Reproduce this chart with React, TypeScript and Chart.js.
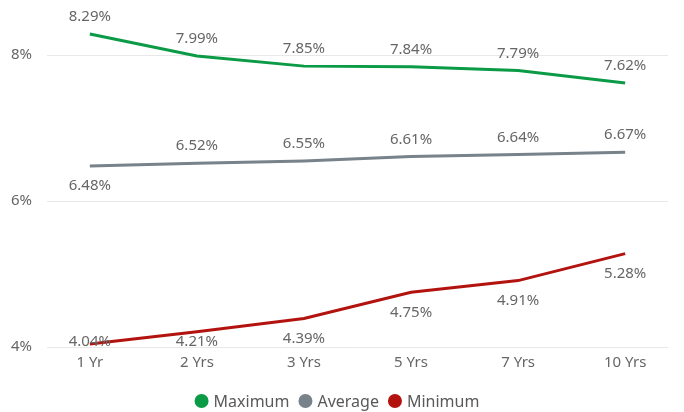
import React, { useEffect, useRef } from "react";
import { Chart, registerables } from "chart.js";

Chart.register(...registerables);

const categories = ["1 Yr", "2 Yrs", "3 Yrs", "5 Yrs", "7 Yrs", "10 Yrs"];
const maximumValues = [8.29, 7.99, 7.85, 7.84, 7.79, 7.62];
const averageValues = [6.48, 6.52, 6.55, 6.61, 6.64, 6.67];
const minimumValues = [4.04, 4.21, 4.39, 4.75, 4.91, 5.28];
const yTickValues = [4, 6, 8];

const maximumLabelPos = ["above", "above", "above", "above", "above", "above"];
const averageLabelPos = ["below", "above", "above", "above", "above", "above"];
const minimumLabelPos = ["below", "below", "below", "below", "below", "below"];

const FONT = "'Noto Sans', 'Open Sans', sans-serif";

const labelPlugin = {
  id: "pointLabels",
  afterDatasetsDraw(chart: any) {
    const ctx = chart.ctx;
    const area = chart.chartArea;
    ctx.save();
    ctx.font = `15px ${FONT}`;
    ctx.fillStyle = "#666666";
    ctx.textAlign = "center";
    ctx.textBaseline = "middle";
    chart.data.datasets.forEach((ds: any, di: number) => {
      const meta = chart.getDatasetMeta(di);
      meta.data.forEach((pt: any, i: number) => {
        const v = ds.data[i].y;
        const pos = ds.labelPos[i];
        let y = pos === "above" ? pt.y - 17 : pt.y + 20;
        if (y > area.bottom - 5) y = area.bottom - 5;
        ctx.fillText(v.toFixed(2) + "%", pt.x, y);
      });
    });
    ctx.restore();
  },
};

const legendPlugin = {
  id: "customLegend",
  afterDraw(chart: any) {
    const ctx = chart.ctx;
    ctx.save();
    ctx.font = `16px ${FONT}`;
    ctx.textBaseline = "middle";
    ctx.textAlign = "left";
    const r = 7;
    const gap = 5;
    const spacing = 9;
    const items = chart.data.datasets.map((ds: any) => ({
      text: ds.label,
      color: ds.borderColor,
      w: 2 * r + gap + ctx.measureText(ds.label).width,
    }));
    const total = items.reduce((s: number, it: any) => s + it.w, 0) + spacing * (items.length - 1);
    let x = chart.width / 2 - 5 - total / 2;
    const y = 401;
    items.forEach((it: any) => {
      ctx.beginPath();
      ctx.fillStyle = it.color;
      ctx.arc(x + r, y, r, 0, Math.PI * 2);
      ctx.fill();
      ctx.fillStyle = "#595959";
      ctx.fillText(it.text, x + 2 * r + gap, y + 1);
      x += it.w + spacing;
    });
    ctx.restore();
  },
};

export default function App() {
  const ref = useRef<HTMLCanvasElement | null>(null);
  useEffect(() => {
    document.body.style.margin = "0";
    const mk = (vals: number[]) => vals.map((v, i) => ({ x: i, y: v }));
    const chart = new Chart(ref.current!, {
      type: "line",
      data: {
        datasets: [
          {
            label: "Maximum",
            data: mk(maximumValues),
            borderColor: "#0B9A45",
            backgroundColor: "#0B9A45",
            borderWidth: 3,
            pointRadius: 0,
            tension: 0,
            labelPos: maximumLabelPos,
          } as any,
          {
            label: "Average",
            data: mk(averageValues),
            borderColor: "#77828A",
            backgroundColor: "#77828A",
            borderWidth: 3,
            pointRadius: 0,
            tension: 0,
            labelPos: averageLabelPos,
          } as any,
          {
            label: "Minimum",
            data: mk(minimumValues),
            borderColor: "#B3130F",
            backgroundColor: "#B3130F",
            borderWidth: 3,
            pointRadius: 0,
            tension: 0,
            labelPos: minimumLabelPos,
          } as any,
        ],
      },
      options: {
        animation: false,
        responsive: true,
        maintainAspectRatio: false,
        layout: { padding: { left: 10, right: 16, top: 26, bottom: 35 } },
        scales: {
          x: {
            type: "linear",
            min: -0.4,
            max: 5.4,
            afterBuildTicks: (scale: any) => {
              scale.ticks = categories.map((_, i) => ({ value: i }));
            },
            afterFit: (scale: any) => {
              scale.height = 30;
            },
            grid: { display: false, drawTicks: false },
            border: { display: false },
            ticks: {
              padding: 7,
              color: "#666666",
              font: { family: FONT, size: 15 },
              maxRotation: 0,
              callback: (v: any) => categories[v] ?? "",
            },
          },
          y: {
            min: 4,
            max: 8.4,
            afterBuildTicks: (scale: any) => {
              scale.ticks = yTickValues.map((v) => ({ value: v }));
            },
            afterFit: (scale: any) => {
              scale.width = 37;
            },
            grid: { color: "#E8E8E8", lineWidth: 1, drawTicks: false },
            border: { display: false },
            ticks: {
              padding: 15,
              color: "#666666",
              font: { family: FONT, size: 15 },
              callback: (v: any) => v + "%",
            },
          },
        },
        plugins: {
          legend: { display: false },
          tooltip: { enabled: false },
        },
      },
      plugins: [labelPlugin, legendPlugin],
    });
    return () => chart.destroy();
  }, []);
  return (
    <div style={{ width: 684, height: 412 }}>
      <canvas ref={ref} />
    </div>
  );
}
